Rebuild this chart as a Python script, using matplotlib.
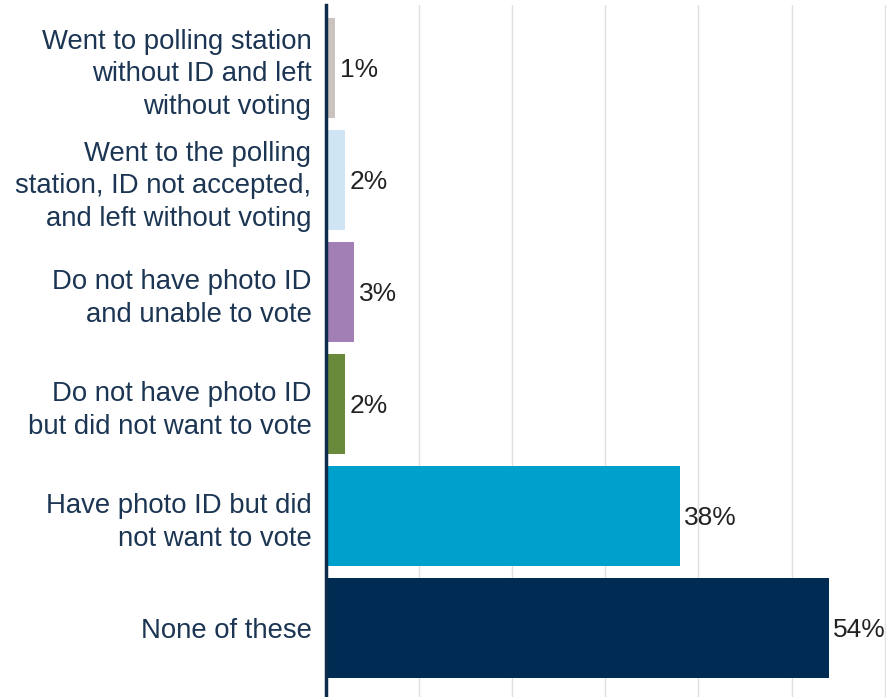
import matplotlib
matplotlib.use('Agg')
import matplotlib.pyplot as plt

plt.rcParams['font.family'] = ['Liberation Sans', 'DejaVu Sans']

# survey responses, top to bottom
labels = [
    'Went to polling station\nwithout ID and left\nwithout voting',
    'Went to the polling\nstation, ID not accepted,\nand left without voting',
    'Do not have photo ID\nand unable to vote',
    'Do not have photo ID\nbut did not want to vote',
    'Have photo ID but did\nnot want to vote',
    'None of these',
]
values = [1, 2, 3, 2, 38, 54]
colors = ['#cbc3bf', '#cfe5f3', '#a27fb5', '#6a8a3b', '#00a0cc', '#002b52']

fig = plt.figure(figsize=(8.88, 6.97), dpi=100)
ax = fig.add_axes([326 / 888, 0, 560 / 888, 692 / 697])

pos = list(range(len(values)))
ax.barh(pos, values, height=0.9, color=colors, zorder=2)
ax.set_ylim(5.616, -0.5625)
ax.set_xlim(0, 60.15)

for p, v in zip(pos, values):
    ax.text(v + 0.5, p + 0.02, '%d%%' % v, va='center', ha='left',
            fontsize=19, color='#222222')

ax.set_yticks(pos)
ax.set_yticklabels(labels, fontsize=19.8, color='#1b3553', linespacing=1.33)
ax.tick_params(axis='y', length=0, pad=10.5)
ax.set_xticks([10, 20, 30, 40, 50, 60])
ax.tick_params(axis='x', length=0, labelbottom=False)
ax.grid(axis='x', color='#e0e0e0', linewidth=1.0, zorder=0)

for s in ['top', 'right', 'bottom']:
    ax.spines[s].set_visible(False)
ax.spines['left'].set_color('#0d2c4a')
ax.spines['left'].set_linewidth(2.5)
ax.spines['left'].set_zorder(3)

plt.savefig('out.png', dpi=100)
